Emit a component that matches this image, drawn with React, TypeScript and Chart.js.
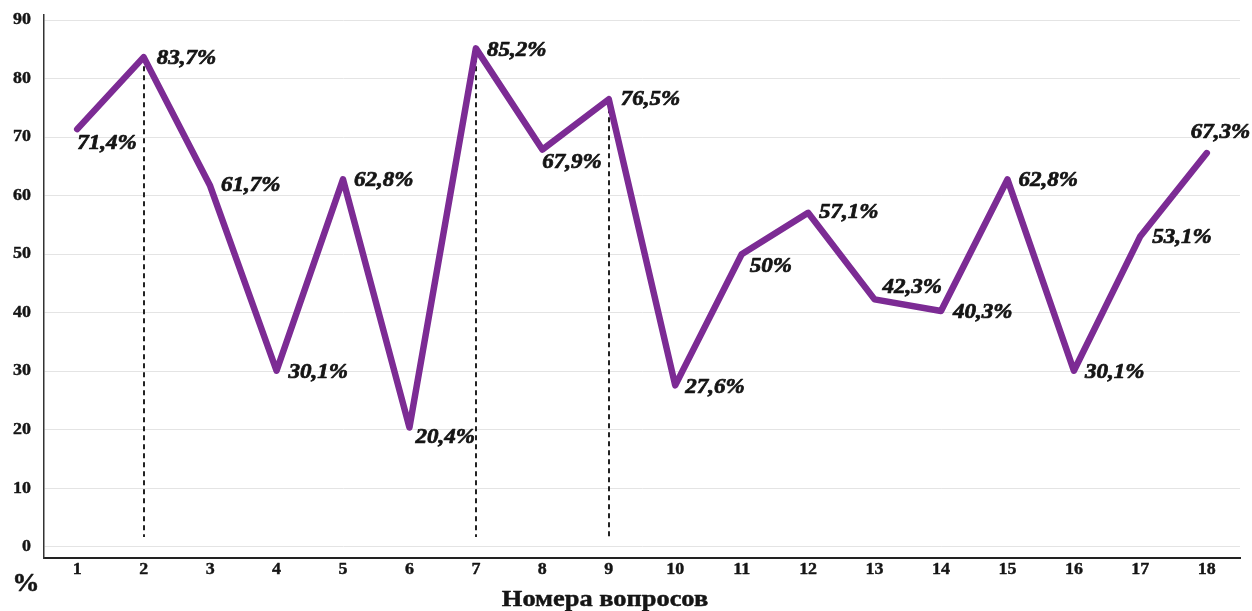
import React, { useEffect, useRef } from "react";
import { Chart, registerables } from "chart.js";

Chart.register(...registerables);

// Question numbers along the x axis
const questions: string[] = ["1", "2", "3", "4", "5", "6", "7", "8", "9", "10", "11", "12", "13", "14", "15", "16", "17", "18"];
// Share of correct answers, %
const shares: number[] = [71.4, 83.7, 61.7, 30.1, 62.8, 20.4, 85.2, 67.9, 76.5, 27.6, 50, 57.1, 42.3, 40.3, 62.8, 30.1, 53.1, 67.3];
// Y axis tick values
const yTicks: number[] = [0, 10, 20, 30, 40, 50, 60, 70, 80, 90];
// Questions marked with a dashed drop line
const markedQuestions: string[] = ["2", "7", "9"];

// Label placement relative to each point (left edge of text, vertical centre)
const labelOffsets: [number, number][] = [
  [0, 15], [13, 2], [11, 0], [12, 2], [11, 1], [6, 10], [11, 2], [0, 13], [12, 1],
  [10, 2], [8, 13], [11, 0], [8, -12], [12, 2], [11, 1], [11, 2], [12, 2], [-16, -20],
];

const SERIF = "'Liberation Serif', 'Times New Roman', serif";
const LINE_COLOR = "#7c2b94";
const TEXT_COLOR = "#151515";

function drawText(ctx: CanvasRenderingContext2D, text: string, x: number, y: number, align: CanvasTextAlign, sx: number, heavy = 0) {
  ctx.save();
  ctx.translate(x, y);
  ctx.scale(sx, 1);
  ctx.textAlign = align;
  ctx.textBaseline = "middle";
  ctx.fillText(text, 0, 0);
  if (heavy > 0) {
    ctx.lineWidth = heavy;
    ctx.lineJoin = "round";
    ctx.strokeText(text, 0, 0);
  }
  ctx.restore();
}

const formatShare = (v: number) => String(v).replace(".", ",") + "%";

const dropLines = {
  id: "dropLines",
  beforeDatasetsDraw(chart: any) {
    const { ctx, scales } = chart;
    const x = scales.x;
    const y = scales.y;
    ctx.save();
    ctx.strokeStyle = "#222";
    ctx.lineWidth = 2;
    ctx.setLineDash([5, 4]);
    markedQuestions.forEach((q) => {
      const i = questions.indexOf(q);
      const px = Math.round(x.getPixelForValue(i));
      ctx.beginPath();
      ctx.moveTo(px, y.getPixelForValue(shares[i]));
      ctx.lineTo(px, y.getPixelForValue(1.7));
      ctx.stroke();
    });
    ctx.restore();
  },
};

const textLayer = {
  id: "textLayer",
  afterDraw(chart: any) {
    const { ctx, scales } = chart;
    const x = scales.x;
    const y = scales.y;
    ctx.save();
    ctx.fillStyle = TEXT_COLOR;
    ctx.strokeStyle = TEXT_COLOR;

    // y tick labels
    ctx.font = `bold 16px ${SERIF}`;
    yTicks.forEach((t) => drawText(ctx, String(t), 31, y.getPixelForValue(t), "right", 1.12, 0.4));

    // x tick labels
    questions.forEach((q, i) => drawText(ctx, q, x.getPixelForValue(i), 570, "center", 1.12, 0.4));

    // axis captions
    ctx.font = `bold 26px ${SERIF}`;
    drawText(ctx, "%", 26, 584, "center", 1.05, 0.5);
    ctx.font = `bold 24px ${SERIF}`;
    drawText(ctx, "Номера вопросов", 605, 600, "center", 1.1, 0.5);

    // value labels
    ctx.font = `italic bold 20px ${SERIF}`;
    shares.forEach((v, i) => {
      const [dx, dy] = labelOffsets[i];
      drawText(ctx, formatShare(v), x.getPixelForValue(i) + dx, y.getPixelForValue(v) + dy, "left", 1.15, 0.7);
    });
    ctx.restore();
  },
};

export default function App() {
  const canvasRef = useRef<HTMLCanvasElement | null>(null);

  useEffect(() => {
    document.body.style.margin = "0";
    const canvas = canvasRef.current;
    if (!canvas) return;
    const chart = new Chart(canvas, {
      type: "line",
      data: {
        labels: questions,
        datasets: [
          {
            data: shares,
            borderColor: LINE_COLOR,
            borderWidth: 6.5,
            borderJoinStyle: "round",
            borderCapStyle: "round",
            pointRadius: 0,
            tension: 0,
            fill: false,
          },
        ],
      },
      options: {
        responsive: false,
        animation: false,
        events: [],
        layout: { padding: { top: 15, right: 12, left: 0, bottom: 0 } },
        plugins: {
          legend: { display: false },
          tooltip: { enabled: false },
          title: { display: false },
        },
        scales: {
          x: {
            type: "category",
            offset: true,
            grid: { display: false },
            border: { display: true, color: "#222", width: 2 },
            ticks: { display: false },
            afterFit: (s: any) => {
              s.height = 53;
            },
          },
          y: {
            min: -1.9,
            max: 90.9,
            grid: { color: "#e4e4e4", lineWidth: 1, drawTicks: false },
            border: { display: true, color: "#333", width: 1.5 },
            ticks: { display: false },
            afterBuildTicks: (s: any) => {
              s.ticks = yTicks.map((v) => ({ value: v }));
            },
            afterFit: (s: any) => {
              s.width = 44;
            },
          },
        },
      },
      plugins: [dropLines, textLayer],
    } as any);
    return () => chart.destroy();
  }, []);

  return (
    <div style={{ width: 1252, height: 611, background: "#fff" }}>
      <canvas ref={canvasRef} width={1252} height={611} />
    </div>
  );
}
